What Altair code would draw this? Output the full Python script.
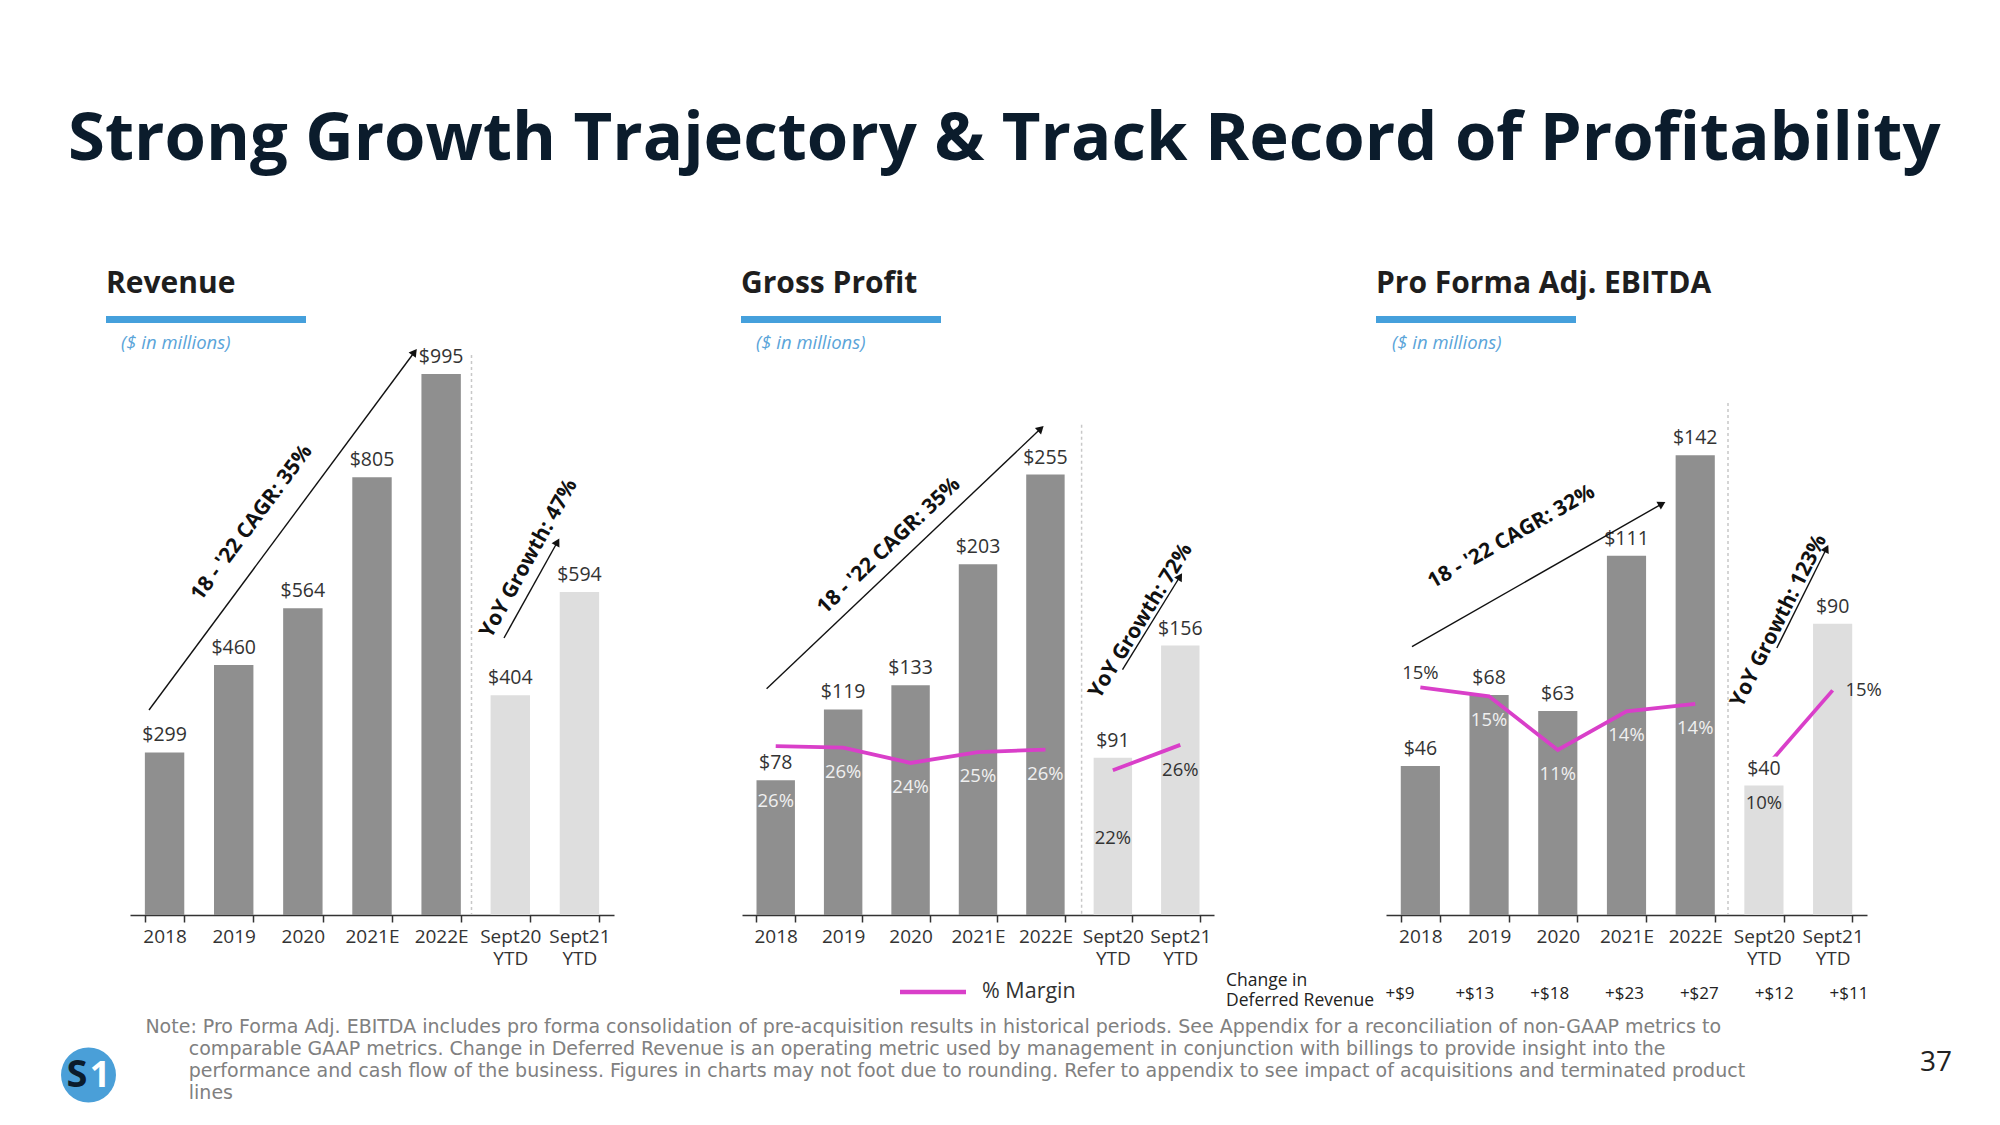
import math
import altair as alt
import pandas as pd

# ---------------- data ----------------
categories = ["2018", "2019", "2020", "2021E", "2022E", "Sept20 YTD", "Sept21 YTD"]
period_type = ["Annual", "Annual", "Annual", "Annual", "Annual", "YTD", "YTD"]
revenue = [299, 460, 564, 805, 995, 404, 594]
gross_profit = [78, 119, 133, 203, 255, 91, 156]
gross_margin = [26.1, 25.9, 23.6, 25.2, 25.6, 22.5, 26.3]
gross_margin_labels = ["26%", "26%", "24%", "25%", "26%", "22%", "26%"]
ebitda = [46, 68, 63, 111, 142, 40, 90]
ebitda_margin = [15.4, 14.8, 11.2, 13.8, 14.3, 9.9, 15.2]
ebitda_margin_labels = ["15%", "15%", "11%", "14%", "14%", "10%", "15%"]
deferred_revenue_change = ["+$9", "+$13", "+$18", "+$23", "+$27", "+$12", "+$11"]

main_title = "Strong Growth Trajectory & Track Record of Profitability"
panel_titles = ["Revenue", "Gross Profit", "Pro Forma Adj. EBITDA"]
subtitle = "($ in millions)"
cagr_labels = ["18 - '22 CAGR: 35%", "18 - '22 CAGR: 35%", "18 - '22 CAGR: 32%"]
yoy_labels = ["YoY Growth: 47%", "YoY Growth: 72%", "YoY Growth: 123%"]
legend_label = "% Margin"
deferred_title = ["Change in", "Deferred Revenue"]
note_lines = [
    "Note: Pro Forma Adj. EBITDA includes pro forma consolidation of pre-acquisition results in historical periods. See Appendix for a reconciliation of non-GAAP metrics to",
    "comparable GAAP metrics. Change in Deferred Revenue is an operating metric used by management in conjunction with billings to provide insight into the",
    "performance and cash flow of the business. Figures in charts may not foot due to rounding. Refer to appendix to see impact of acquisitions and terminated product",
    "lines",
]
page_number = "37"

# ---------------- styles ----------------
FONT = "Open Sans"
NOTE_FONT = "DejaVu Sans"
DARK_BAR = "#8f8f8f"
LIGHT_BAR = "#dedede"
MAGENTA = "#d93fc9"
BLUE = "#45a0dc"
TEXT = "#333333"
LIGHT_TXT = "#f0f0f0"
TITLE_C = "#0b1c2c"
ANNOT_SIZE = 21

OY = 355      # page y of plot tops
H = 560       # plot height
ONE = pd.DataFrame({"k": [0]})


def tx(txt, x, y, ox, **kw):
    return alt.Chart(ONE).mark_text(text=txt, **kw).encode(
        x=alt.value(x - ox), y=alt.value(y - OY))


def arrow(x1, y1, x2, y2, ox):
    ang = math.degrees(math.atan2(x2 - x1, y1 - y2))
    line = alt.Chart(ONE).mark_rule(color="#111111", strokeWidth=1.4).encode(
        x=alt.value(x1 - ox), y=alt.value(y1 - OY),
        x2=alt.value(x2 - ox), y2=alt.value(y2 - OY))
    head = alt.Chart(ONE).mark_point(shape="triangle-up", filled=True, size=80,
                                     color="#111111", opacity=1, angle=ang).encode(
        x=alt.value(x2 - ox), y=alt.value(y2 - OY))
    return [line, head]


def header(title, x_title, x_sub, ox):
    return [
        tx(title, x_title, 284, ox, align="left", font=FONT, fontWeight="bold",
           fontSize=30, color="#1e1e1e"),
        alt.Chart(ONE).mark_rect(color=BLUE).encode(
            x=alt.value(x_title - ox), x2=alt.value(x_title + 200 - ox),
            y=alt.value(316 - OY), y2=alt.value(323 - OY)),
        tx(subtitle, x_sub, 343, ox, align="left", font=FONT, fontStyle="italic",
           fontSize=18.5, color="#5aa4d9"),
    ]


def separator(xp, ytop, ox):
    return alt.Chart(ONE).mark_rule(color="#c8c8c8", strokeWidth=1.5, strokeDash=[3, 3]).encode(
        x=alt.value(xp - ox), y=alt.value(ytop - OY), y2=alt.value(H))


def make_df(values, pct=None, pct_labels=None):
    df = pd.DataFrame({"cat": categories, "period": period_type, "value": values,
                       "vlabel": ["$%d" % v for v in values]})
    if pct is not None:
        df["pct"] = pct
        df["plabel"] = pct_labels
    return df


def panel_layers(df, ymax, prange=None, rules=None, xrange=None):
    sc = dict(domain=categories, paddingInner=0.43, paddingOuter=0.215)
    if xrange:
        sc["range"] = xrange
    x = alt.X("cat:N", scale=alt.Scale(**sc),
              axis=alt.Axis(title=None, labelAngle=0,
                            labelExpr="isValid(datum.value) ? split(datum.value, ' ') : ''",
                            labelFontSize=19, labelColor=TEXT, labelFont=FONT,
                            domainColor=TEXT, domainWidth=1.5, tickColor=TEXT,
                            tickWidth=1.5, tickSize=7, tickBand="extent",
                            labelPadding=5, labelLineHeight=22, grid=False,
                            labelOverlap=False))
    y = alt.Y("value:Q", scale=alt.Scale(domain=[0, ymax], nice=False, zero=True), axis=None)
    base = alt.Chart(df)
    bars = base.mark_bar().encode(
        x=x, y=y,
        color=alt.Color("period:N", scale=alt.Scale(domain=["Annual", "YTD"],
                                                    range=[DARK_BAR, LIGHT_BAR]), legend=None))
    layers = [bars]
    has_pct = "pct" in df.columns
    if has_pct:
        yp = alt.Y("pct:Q", scale=alt.Scale(domain=list(prange), nice=False, zero=False), axis=None)
        layers.append(base.mark_line(color=MAGENTA, strokeWidth=3.8).encode(
            x=x, y=yp, detail="period:N"))
    # value labels with a white halo (hides the margin line beneath them)
    layers.append(base.mark_text(dy=-17, fontSize=19.5, color="white", stroke="white",
                                 strokeWidth=9, font=FONT).encode(x=x, y=y, text="vlabel:N"))
    layers.append(base.mark_text(dy=-17, fontSize=19.5, color=TEXT, font=FONT).encode(
        x=x, y=y, text="vlabel:N"))
    if has_pct:
        for cats_, dy, dx, col in rules:
            layers.append(
                base.transform_filter(alt.FieldOneOfPredicate(field="cat", oneOf=cats_))
                .mark_text(dy=dy, dx=dx, fontSize=18.5, color=col, font=FONT)
                .encode(x=x, y=yp, text="plabel:N"))
    return layers


# ---------------- panel 1 : Revenue ----------------
OX1 = 130
l1 = panel_layers(make_df(revenue), 1030)
l1 += [
    # anchors that pin the canvas to the page
    alt.Chart(ONE).mark_rect(opacity=0).encode(
        x=alt.value(8 - OX1), x2=alt.value(9 - OX1), y=alt.value(8 - OY), y2=alt.value(9 - OY)),
    alt.Chart(ONE).mark_rect(opacity=0).encode(
        x=alt.value(1978 - OX1), x2=alt.value(1979 - OX1),
        y=alt.value(1110 - OY), y2=alt.value(1111 - OY)),
    alt.Chart(ONE).mark_text(text=main_title, align="left", baseline="alphabetic",
                             font=FONT, fontWeight="bold",
                             fontSize=67, color=TITLE_C).encode(
        x=alt.value(68 - OX1), y=alt.value(159.5 - OY)),
    separator(471.5, 355, OX1),
]
l1 += header(panel_titles[0], 106, 121, OX1)
l1 += arrow(149, 710, 414.5, 352, OX1)
l1 += [tx(cagr_labels[0], 252, 523, OX1, angle=306.6, font=FONT, fontWeight="bold",
          fontSize=ANNOT_SIZE, color="#111111")]
l1 += arrow(504, 638, 557.4, 542, OX1)
l1 += [tx(yoy_labels[0], 529, 558.7, OX1, angle=299.1, font=FONT, fontWeight="bold",
          fontSize=ANNOT_SIZE, color="#111111")]
note_x = [145.4, 188.8, 188.8, 188.8]
note_y = [1026.8, 1048.9, 1071.0, 1093.1]
for t, xx, yy in zip(note_lines, note_x, note_y):
    l1.append(tx(t, xx, yy, OX1, align="left", font=NOTE_FONT, fontSize=19, color="#808080"))
l1 += [
    alt.Chart(ONE).mark_point(shape="circle", filled=True, size=3020, color="#4a9fd8",
                              opacity=1).encode(x=alt.value(88.5 - OX1), y=alt.value(1075 - OY)),
    tx("S", 77, 1076, OX1, font=FONT, fontWeight="bold", fontSize=38, color="#0b1c2c"),
    tx("1", 100, 1076, OX1, font=FONT, fontWeight="bold", fontSize=36, color="#ffffff"),
]
p1 = alt.layer(*l1).resolve_scale(y="independent").properties(width=484, height=H)

# ---------------- panel 2 : Gross Profit ----------------
OX2 = 742
gp_rules = [
    (["2019", "2020", "2021E", "2022E"], 24, 0, LIGHT_TXT),
    (["2018"], 55, 0, LIGHT_TXT),
    (["Sept20 YTD"], 68, 0, TEXT),
    (["Sept21 YTD"], 25, 0, TEXT),
]
l2 = panel_layers(make_df(gross_profit, gross_margin, gross_margin_labels), 324.2,
                  (0.9, 84.5), gp_rules)
l2 += [separator(1081.6, 424.7, OX2)]
l2 += header(panel_titles[1], 741, 756, OX2)
l2 += arrow(766.6, 688.8, 1040.8, 428.6, OX2)
l2 += [tx(cagr_labels[1], 889, 546, OX2, angle=316.5, font=FONT, fontWeight="bold",
          fontSize=ANNOT_SIZE, color="#111111")]
l2 += arrow(1122.5, 669.6, 1180, 576.5, OX2)
l2 += [tx(yoy_labels[1], 1141, 621, OX2, angle=301.7, font=FONT, fontWeight="bold",
          fontSize=ANNOT_SIZE, color="#111111")]
l2 += [
    alt.Chart(ONE).mark_rule(color=MAGENTA, strokeWidth=4.5).encode(
        x=alt.value(900 - OX2), x2=alt.value(966 - OX2),
        y=alt.value(992 - OY), y2=alt.value(992 - OY)),
    tx(legend_label, 982, 992, OX2, align="left", font=FONT, fontSize=21.5, color=TEXT),
]
p2 = alt.layer(*l2).resolve_scale(y="independent").properties(width=472, height=H)

# ---------------- panel 3 : EBITDA ----------------
OX3 = 1342
eb_rules = [
    (["2019", "2020", "2021E", "2022E"], 24, 0, LIGHT_TXT),
    (["2018"], -14, 0, TEXT),
    (["Sept20 YTD"], 34, 0, TEXT),
    (["Sept21 YTD"], 0, 31, TEXT),
]
df3 = make_df(ebitda, ebitda_margin, ebitda_margin_labels)
df3["drev"] = deferred_revenue_change
l3 = panel_layers(df3, 173.0, (0.13, 37.7), eb_rules, xrange=[44, 525])
l3 += [separator(1728, 403, OX3)]
l3 += header(panel_titles[2], 1376, 1392, OX3)
l3 += arrow(1412, 646.7, 1662, 503.8, OX3)
l3 += [tx(cagr_labels[2], 1511.5, 537, OX3, angle=330.3, font=FONT, fontWeight="bold",
          fontSize=ANNOT_SIZE, color="#111111")]
l3 += arrow(1776.8, 648, 1826.5, 548.5, OX3)
l3 += [tx(yoy_labels[2], 1779, 621, OX3, angle=296.5, font=FONT, fontWeight="bold",
          fontSize=ANNOT_SIZE, color="#111111")]
l3 += [
    tx(deferred_title[0], 1226, 981, OX3, align="left", font=FONT, fontSize=17.5, color="#222222"),
    tx(deferred_title[1], 1226, 1001, OX3, align="left", font=FONT, fontSize=17.5, color="#222222"),
    tx(page_number, 1936, 1062.5, OX3, font=FONT, fontSize=28, color="#222222"),
]
main3 = alt.layer(*l3).resolve_scale(y="independent")
# deferred-revenue row: its own point scale, spaced as in the table row under the axis
defer_row = alt.Chart(df3).mark_text(font=FONT, fontSize=17, color="#222222").encode(
    x=alt.X("cat:N", scale=alt.Scale(type="point", padding=0, domain=categories,
                                     range=[1400 - OX3, 1849 - OX3]), axis=None),
    y=alt.value(993.6 - OY), text="drev:N")
p3 = (alt.layer(main3, defer_row)
      .resolve_scale(x="independent", y="independent")
      .properties(width=525, height=H))

chart = (
    alt.hconcat(p1, p2, p3, spacing=128, bounds="flush")
    .properties(padding=0, background="white")
    .configure(font=FONT)
    .configure_view(strokeWidth=0, strokeOpacity=0)
)

chart.save("out.html", embed_options={"renderer": "svg", "actions": False})
